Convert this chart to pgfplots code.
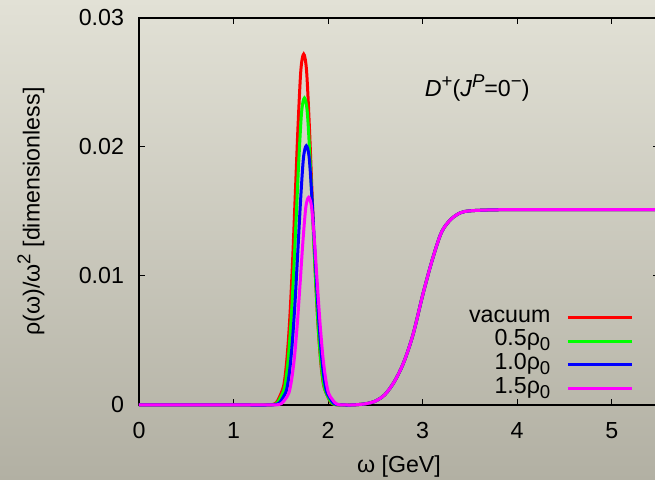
\documentclass[border=0pt]{standalone}
\usepackage{fontspec}
\setmainfont{Liberation Sans}
\usepackage{pgfplots}
\pgfplotsset{compat=1.18}
\usepackage{pgfplotstable}

\definecolor{bgtop}{RGB}{226,225,214}
\definecolor{bgbot}{RGB}{178,176,163}
\definecolor{gpred}{RGB}{255,0,0}
\definecolor{gpgreen}{RGB}{0,255,0}
\definecolor{gpblue}{RGB}{0,0,255}
\definecolor{gpmagenta}{RGB}{255,0,255}

% gnuplot-like sub/superscripts (0.8 size)
\newcommand\gsub[1]{\raisebox{-0.4ex}{\fontsize{9.3}{10}\selectfont #1}}
\newcommand\gsup[1]{\raisebox{0.75ex}{\fontsize{9.3}{10}\selectfont #1}}

% spectral functions, one table per density
\pgfplotstableread{
x y
0 0
1.0 0
1.342 0
1.402 0.00002
1.452 0.00017
1.492 0.00072
1.532 0.00156
1.562 0.00336
1.592 0.00636
1.622 0.01072
1.652 0.01611
1.682 0.02161
1.712 0.02595
1.742 0.0272
1.772 0.02595
1.802 0.02161
1.832 0.01611
1.862 0.01072
1.892 0.00636
1.922 0.00336
1.952 0.00156
1.992 0.00072
2.032 0.00017
2.082 0.00002
2.142 0
2.25 0
2.30 0.00002
2.40 0.0001
2.50 0.0003
2.60 0.0008
2.70 0.0018
2.80 0.0033
2.90 0.0055
3.00 0.0085
3.10 0.0112
3.20 0.0134
3.30 0.0144
3.40 0.0149
3.50 0.01505
3.70 0.01512
4.00 0.01515
4.50 0.01515
5.00 0.01515
5.50 0.01515
}\vac

\pgfplotstableread{
x y
0 0
1.0 0
1.35 0
1.41 0.00002
1.46 0.00015
1.50 0.00063
1.54 0.00137
1.57 0.00294
1.60 0.00557
1.63 0.00938
1.66 0.0141
1.69 0.01891
1.72 0.02271
1.75 0.0238
1.78 0.02271
1.81 0.01891
1.84 0.0141
1.87 0.00938
1.90 0.00557
1.93 0.00294
1.96 0.00137
2.00 0.00063
2.04 0.00015
2.09 0.00002
2.15 0
2.25 0
2.30 0.00002
2.40 0.0001
2.50 0.0003
2.60 0.0008
2.70 0.0018
2.80 0.0033
2.90 0.0055
3.00 0.0085
3.10 0.0112
3.20 0.0134
3.30 0.0144
3.40 0.0149
3.50 0.01505
3.70 0.01512
4.00 0.01515
4.50 0.01515
5.00 0.01515
5.50 0.01515
}\rhohalf

\pgfplotstableread{
x y
0 0
1.0 0
1.37 0
1.43 0.00002
1.48 0.00013
1.52 0.00053
1.56 0.00115
1.59 0.00248
1.62 0.0047
1.65 0.00792
1.68 0.0119
1.71 0.01597
1.74 0.01918
1.77 0.0201
1.80 0.01918
1.83 0.01597
1.86 0.0119
1.89 0.00792
1.92 0.0047
1.95 0.00248
1.98 0.00115
2.02 0.00053
2.06 0.00013
2.11 0.00002
2.17 0
2.25 0
2.30 0.00002
2.40 0.0001
2.50 0.0003
2.60 0.0008
2.70 0.0018
2.80 0.0033
2.90 0.0055
3.00 0.0085
3.10 0.0112
3.20 0.0134
3.30 0.0144
3.40 0.0149
3.50 0.01505
3.70 0.01512
4.00 0.01515
4.50 0.01515
5.00 0.01515
5.50 0.01515
}\rhoone

\pgfplotstableread{
x y
0 0
1.0 0
1.395 0
1.455 0.00001
1.505 0.0001
1.545 0.00043
1.585 0.00092
1.615 0.00199
1.645 0.00376
1.675 0.00634
1.705 0.00953
1.735 0.01279
1.765 0.01536
1.795 0.0161
1.825 0.01536
1.855 0.01279
1.885 0.00953
1.915 0.00634
1.945 0.00376
1.975 0.00199
2.005 0.00092
2.045 0.00043
2.085 0.0001
2.135 0.00001
2.195 0
2.25 0
2.30 0.00002
2.40 0.0001
2.50 0.0003
2.60 0.0008
2.70 0.0018
2.80 0.0033
2.90 0.0055
3.00 0.0085
3.10 0.0112
3.20 0.0134
3.30 0.0144
3.40 0.0149
3.50 0.01505
3.70 0.01512
4.00 0.01515
4.50 0.01515
5.00 0.01515
5.50 0.01515
}\rhoonehalf

\begin{document}
\begin{tikzpicture}
\fill[top color=bgtop, bottom color=bgbot] (-69.5pt,-37.5pt) rectangle (258pt,202.5pt);
\useasboundingbox (-69.5pt,-37.5pt) rectangle (258pt,202.5pt);
\begin{axis}[
  at={(0,0)}, anchor=south west,
  scale only axis,
  width=260pt, height=193.5pt,
  xmin=0, xmax=5.5,
  ymin=0, ymax=0.03,
  xtick={0,1,2,3,4,5},
  xticklabels={0,1,2,3,4,5},
  ytick={0,0.01,0.02,0.03},
  yticklabels={0,0.01,0.02,0.03},
  scaled y ticks=false,
  tick align=inside,
  major tick length=3pt,
  tick style={black, line width=0.5pt},
  axis line style={black, line width=0.8pt},
  every tick label/.append style={font=\fontsize{11.6}{13.5}\selectfont},
  yticklabel style={xshift=-4pt},
  xticklabel style={yshift=-5pt},
  label style={font=\fontsize{11.6}{13.5}\selectfont},
  xlabel={ω [GeV]},
  ylabel={ρ(ω)/ω\gsup{2} [dimensionless]},
  x label style={at={(axis description cs:0.5,-0.158)}, anchor=center},
  y label style={at={(axis description cs:-0.2077,0.5)}, anchor=center},
  clip=false,
  legend cell align=right,
  legend plot pos=right,
  legend image code/.code={\draw[#1] (0pt,0pt) -- (32pt,0pt);},
  legend style={draw=none, fill=none, at={(0.963,0.0)}, anchor=south east,
    font=\fontsize{11.6}{13.5}\selectfont, column sep=8pt, row sep=0pt,
    nodes={inner sep=0pt, text height=8.4pt, text depth=3.5pt}},
]
\addplot[gpred, line width=1.5pt, smooth] table {\vac};
\addlegendentry{vacuum}
\addplot[gpgreen, line width=1.5pt, smooth] table {\rhohalf};
\addlegendentry{0.5ρ\gsub{0}}
\addplot[gpblue, line width=1.5pt, smooth] table {\rhoone};
\addlegendentry{1.0ρ\gsub{0}}
\addplot[gpmagenta, line width=1.5pt, smooth] table {\rhoonehalf};
\addlegendentry{1.5ρ\gsub{0}}
\node[anchor=west, inner sep=0pt, font=\fontsize{11.6}{13.5}\selectfont] at (axis cs:3.02,0.02457)
  {\textit{D}\gsup{+}(\textit{J}\gsup{\textit{P}}=0\gsup{−})};
\end{axis}
\end{tikzpicture}
\end{document}
